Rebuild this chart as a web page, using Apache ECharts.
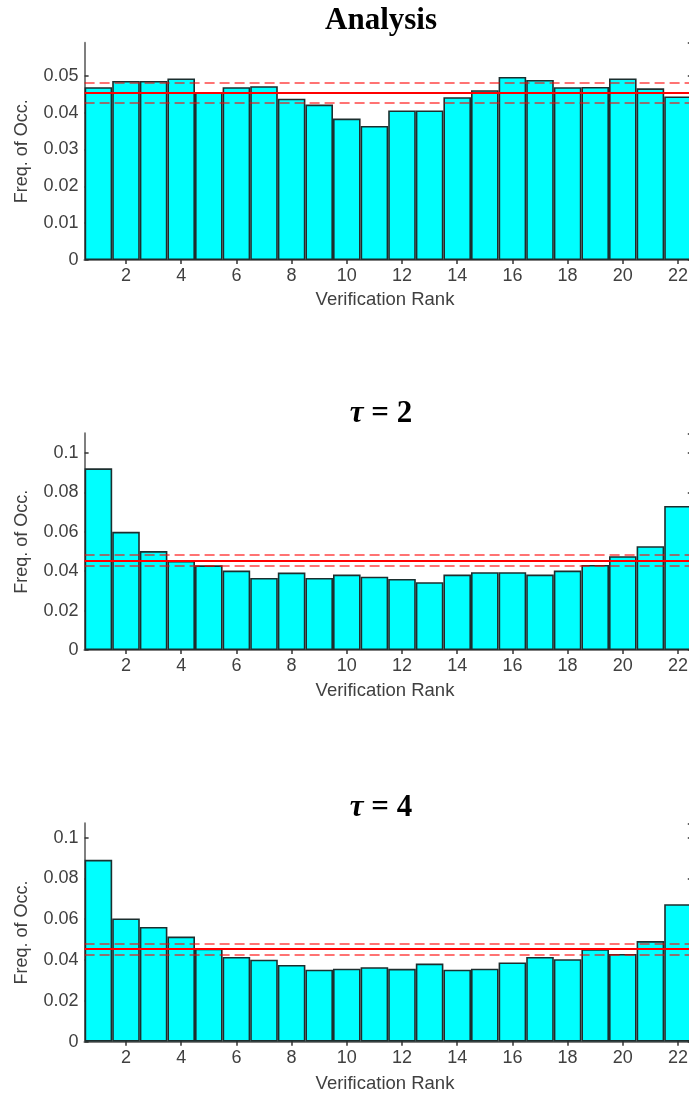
<!DOCTYPE html>
<html>
<head>
<meta charset="utf-8">
<script src="https://cdn.jsdelivr.net/npm/echarts@6/dist/echarts.min.js"></script>
<style>
html,body{margin:0;padding:0;background:#fff;}
#chart{width:689px;height:1094px;}
</style>
</head>
<body>
<div id="chart"></div>
<script>
// ---- data ----
const ranks = ['1','2','3','4','5','6','7','8','9','10','11','12','13','14','15','16','17','18','19','20','21','22'];
const analysisFreq = [0.0469,0.0486,0.0486,0.0493,0.0455,0.0469,0.0472,0.0438,0.0422,0.0384,0.0364,0.0406,0.0406,0.0442,0.0461,0.0497,0.0489,0.0469,0.0470,0.0493,0.0466,0.0444];
const tau2Freq = [0.0922,0.0600,0.0502,0.0452,0.0430,0.0403,0.0366,0.0393,0.0366,0.0383,0.0372,0.0361,0.0344,0.0383,0.0395,0.0395,0.0383,0.0403,0.0432,0.0476,0.0527,0.0731];
const tau4Freq = [0.0891,0.0604,0.0562,0.0515,0.0456,0.0415,0.0402,0.0376,0.0353,0.0358,0.0365,0.0357,0.0383,0.0353,0.0358,0.0388,0.0415,0.0404,0.0454,0.0430,0.0493,0.0674];
const expectedFreq = 0.0455;
const upperBound = 0.0482;
const lowerBound = 0.0428;
const panelTitles = ['Analysis', '{t|τ} = 2', '{t|τ} = 4'];
const yMaxes = [0.059, 0.11, 0.107];
const yIntervals = [0.01, 0.02, 0.02];
const xAxisTitle = 'Verification Rank';
const yAxisTitle = 'Freq. of Occ.';

// ---- layout ----
const series = [analysisFreq, tau2Freq, tau4Freq];
const grids = [
  {left: 84.6, width: 607.2, top: 42.7, height: 217.3},
  {left: 84.6, width: 607.2, top: 433.3, height: 216.7},
  {left: 84.6, width: 607.2, top: 823.3, height: 218.4}
];
const titleY = [21, 414, 808];
const xLabelY = [300, 691, 1084];

const frameColor = '#7f7f7f';
const textColor = '#404040';
const fontSans = 'Liberation Sans, Arial, sans-serif';

const option = {
  animation: false,
  backgroundColor: '#ffffff',
  grid: grids.map(g => Object.assign({containLabel: false, outerBoundsMode: 'none'}, g)),
  xAxis: [],
  yAxis: [],
  series: [],
  graphic: []
};

const evenTick = (idx) => (idx % 2) === 1;

grids.forEach((g, i) => {
  option.xAxis.push({
    type: 'category', gridIndex: i, data: ranks, boundaryGap: true, position: 'bottom',
    axisLine: {show: true, lineStyle: {color: frameColor, width: 2}},
    axisTick: {show: true, inside: true, length: 4, alignWithLabel: true, interval: evenTick, lineStyle: {color: '#333', width: 1.5}},
    axisLabel: {show: true, interval: evenTick, margin: 7, color: textColor, fontSize: 18, fontFamily: fontSans},
    splitLine: {show: false}
  });
  option.xAxis.push({
    type: 'category', gridIndex: i, data: ranks, boundaryGap: true, position: 'top',
    axisLine: {show: true, lineStyle: {color: frameColor, width: 2}},
    axisTick: {show: true, inside: true, length: 4, alignWithLabel: true, interval: evenTick, lineStyle: {color: '#333', width: 1.5}},
    axisLabel: {show: false},
    splitLine: {show: false}
  });
  const fmt = v => v === 0 ? '0' : String(parseFloat(v.toFixed(4)));
  option.yAxis.push({
    type: 'value', gridIndex: i, min: 0, max: yMaxes[i], interval: yIntervals[i], position: 'left',
    axisLine: {show: true, lineStyle: {color: frameColor, width: 2}},
    axisTick: {show: true, inside: true, length: 4, lineStyle: {color: '#333', width: 1.5}},
    axisLabel: {show: true, margin: 6, color: textColor, fontSize: 18, fontFamily: fontSans, formatter: fmt, showMaxLabel: false},
    splitLine: {show: false}
  });
  option.yAxis.push({
    type: 'value', gridIndex: i, min: 0, max: yMaxes[i], interval: yIntervals[i], position: 'right',
    axisLine: {show: true, lineStyle: {color: frameColor, width: 2}},
    axisTick: {show: true, inside: true, length: 4, lineStyle: {color: '#333', width: 1.5}},
    axisLabel: {show: false},
    splitLine: {show: false}
  });
  option.series.push({
    type: 'bar', xAxisIndex: 2 * i, yAxisIndex: 2 * i, data: series[i],
    barCategoryGap: '0%', barWidth: '100%',
    itemStyle: {color: '#00ffff', borderColor: '#1c2e2e', borderWidth: 1.6},
    z: 2,
    markLine: {
      silent: true, symbol: 'none', label: {show: false}, z: 5, precision: 5,
      data: [
        {yAxis: upperBound, lineStyle: {color: 'rgba(255,0,0,0.55)', width: 2, type: [10, 5]}},
        {yAxis: lowerBound, lineStyle: {color: 'rgba(255,0,0,0.55)', width: 2, type: [10, 5]}},
        {yAxis: expectedFreq, lineStyle: {color: '#ff0000', width: 2.2, type: 'solid'}}
      ]
    }
  });
  option.graphic.push({
    type: 'text', x: 381, y: titleY[i], z: 10,
    style: {
      text: panelTitles[i], fill: '#000', align: 'center', verticalAlign: 'middle',
      font: 'bold 31px "Liberation Serif", "Times New Roman", serif',
      rich: {t: {fontStyle: 'italic', fontWeight: 'bold', fontSize: 31, fontFamily: 'Liberation Serif', fill: '#000'}}
    }
  });
  option.graphic.push({
    type: 'text', x: 385, y: xLabelY[i], z: 10,
    style: {text: xAxisTitle, fill: textColor, align: 'center', verticalAlign: 'middle', font: '18.5px "Liberation Sans", Arial, sans-serif'}
  });
  option.graphic.push({
    type: 'text', x: 22, y: g.top + g.height / 2, rotation: Math.PI / 2, z: 10,
    style: {text: yAxisTitle, fill: textColor, align: 'center', verticalAlign: 'middle', font: '18px "Liberation Sans", Arial, sans-serif'}
  });
});

const chart = echarts.init(document.getElementById('chart'), null, {renderer: 'canvas'});
chart.setOption(option);
</script>
</body>
</html>
